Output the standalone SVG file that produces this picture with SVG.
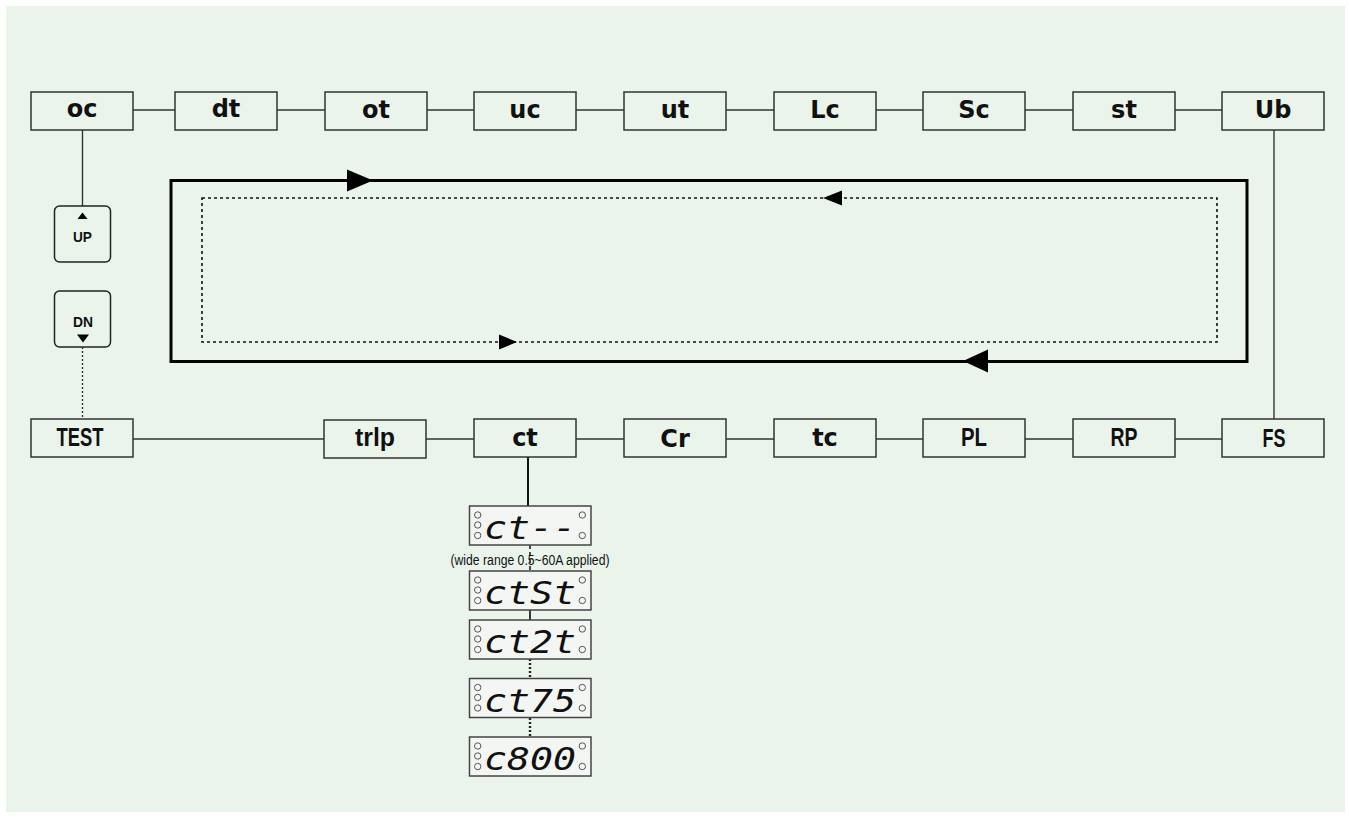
<svg xmlns="http://www.w3.org/2000/svg" width="1349" height="818" viewBox="0 0 1349 818">
<style>
.box{fill:none;stroke:#333;stroke-width:1.5}
.ln{stroke:#333;stroke-width:1.4;fill:none}
.lbl{font-family:"DejaVu Sans",sans-serif;font-weight:bold;font-size:24px;fill:#111;text-anchor:middle}
.lblc{font-family:"Liberation Sans",sans-serif;font-weight:bold;font-size:25px;fill:#111;text-anchor:middle}
.btn{fill:none;stroke:#222;stroke-width:1.5}
.btxt{font-family:"Liberation Sans",sans-serif;font-weight:bold;font-size:15px;fill:#111;text-anchor:middle}
.disp{fill:#F4F6F4;stroke:#444;stroke-width:1.5}
.led{fill:none;stroke:#555;stroke-width:1}
.seg{font-family:"DejaVu Sans Mono",monospace;font-style:italic;font-size:32px;fill:#111}
.note{font-family:"Liberation Sans",sans-serif;font-size:15.5px;fill:#111;text-anchor:middle}
.arrow{fill:#000}
</style>
<rect x="6" y="6" width="1339" height="806" fill="#EAF4EB"/>

<g id="connectors">
  <line class="ln" x1="133" y1="110" x2="175" y2="110"/>
  <line class="ln" x1="277" y1="110" x2="325" y2="110"/>
  <line class="ln" x1="427" y1="110" x2="474" y2="110"/>
  <line class="ln" x1="576" y1="110" x2="624" y2="110"/>
  <line class="ln" x1="726" y1="110" x2="774" y2="110"/>
  <line class="ln" x1="876" y1="110" x2="923" y2="110"/>
  <line class="ln" x1="1025" y1="110" x2="1073" y2="110"/>
  <line class="ln" x1="1175" y1="110" x2="1222" y2="110"/>
  <line class="ln" x1="133" y1="439" x2="324" y2="439"/>
  <line class="ln" x1="426" y1="439" x2="474" y2="439"/>
  <line class="ln" x1="576" y1="439" x2="624" y2="439"/>
  <line class="ln" x1="726" y1="439" x2="774" y2="439"/>
  <line class="ln" x1="876" y1="439" x2="923" y2="439"/>
  <line class="ln" x1="1025" y1="439" x2="1073" y2="439"/>
  <line class="ln" x1="1175" y1="439" x2="1222" y2="439"/>
  <line class="ln" x1="1274" y1="130" x2="1274" y2="419"/>
  <line class="ln" x1="82.5" y1="130" x2="82.5" y2="206"/>
  <line class="ln" x1="82.5" y1="347" x2="82.5" y2="419" stroke-dasharray="2 2" stroke-width="1.6"/>
  <path d="M171,180.5 H1247 V361.5 H171 Z" fill="none" stroke="#000" stroke-width="3"/>
  <path d="M202,198 H1217 V342 H202 Z" fill="none" stroke="#111" stroke-width="1.6" stroke-dasharray="3 3"/>
  <polygon class="arrow" points="373,180.5 347,169.5 347,191.5"/>
  <polygon class="arrow" points="963,361 988,349.5 988,372.5"/>
  <polygon class="arrow" points="823,198 842,190.5 842,205.5"/>
  <polygon class="arrow" points="517,342 499,334.5 499,349.5"/>
  <line x1="528" y1="457" x2="528" y2="506" stroke="#111" stroke-width="2"/>
  <line x1="530" y1="545" x2="530" y2="571" stroke="#222" stroke-width="1.6" stroke-dasharray="4 3"/>
  <line x1="530" y1="610" x2="530" y2="620" stroke="#222" stroke-width="1.8"/>
  <line x1="530" y1="659" x2="530" y2="678" stroke="#222" stroke-width="2.4" stroke-dasharray="2 2"/>
  <line x1="530" y1="718" x2="530" y2="737" stroke="#222" stroke-width="2.4" stroke-dasharray="2 2"/>
</g>

<g id="node-oc"><rect class="box" x="31" y="92" width="102" height="38"/><text class="lbl" x="82" y="117">oc</text></g>
<g id="node-dt"><rect class="box" x="175" y="92" width="102" height="38"/><text class="lbl" x="226" y="117">dt</text></g>
<g id="node-ot"><rect class="box" x="325" y="92" width="102" height="38"/><text class="lbl" x="376" y="118">ot</text></g>
<g id="node-uc"><rect class="box" x="474" y="92" width="102" height="38"/><text class="lbl" x="525" y="118">uc</text></g>
<g id="node-ut"><rect class="box" x="624" y="92" width="102" height="38"/><text class="lbl" x="675" y="118">ut</text></g>
<g id="node-Lc"><rect class="box" x="774" y="92" width="102" height="38"/><text class="lbl" x="825" y="118">Lc</text></g>
<g id="node-Sc"><rect class="box" x="923" y="92" width="102" height="38"/><text class="lbl" x="974" y="118">Sc</text></g>
<g id="node-st"><rect class="box" x="1073" y="92" width="102" height="38"/><text class="lbl" x="1124" y="118">st</text></g>
<g id="node-Ub"><rect class="box" x="1222" y="92" width="102" height="38"/><text class="lbl" x="1273" y="118">Ub</text></g>

<g id="node-UP"><rect class="btn" x="54.5" y="206" width="56" height="56" rx="5"/><polygon points="82.5,212.5 77.5,219 87.5,219" fill="#000"/><text class="btxt" x="82.5" y="242" textLength="19" lengthAdjust="spacingAndGlyphs">UP</text></g>
<g id="node-DN"><rect class="btn" x="54.5" y="291" width="56" height="56" rx="5"/><text class="btxt" x="83" y="326.5" textLength="20" lengthAdjust="spacingAndGlyphs">DN</text><polygon points="83,342.5 77,334.5 89,334.5" fill="#000"/></g>

<g id="node-TEST"><rect class="box" x="31" y="419" width="102" height="38"/><text class="lblc" x="80" y="446" textLength="47" lengthAdjust="spacingAndGlyphs">TEST</text></g>
<g id="node-trlp"><rect class="box" x="324" y="420" width="102" height="38"/><text class="lblc" x="375" y="446" textLength="40" lengthAdjust="spacingAndGlyphs">trlp</text></g>
<g id="node-ct"><rect class="box" x="474" y="419" width="102" height="38"/><text class="lbl" x="525" y="446">ct</text></g>
<g id="node-Cr"><rect class="box" x="624" y="419" width="102" height="38"/><text class="lbl" x="675" y="447">Cr</text></g>
<g id="node-tc"><rect class="box" x="774" y="419" width="102" height="38"/><text class="lbl" x="825" y="446">tc</text></g>
<g id="node-PL"><rect class="box" x="923" y="419" width="102" height="38"/><text class="lblc" x="974" y="446" textLength="26" lengthAdjust="spacingAndGlyphs">PL</text></g>
<g id="node-RP"><rect class="box" x="1073" y="419" width="102" height="38"/><text class="lblc" x="1124" y="446" textLength="27" lengthAdjust="spacingAndGlyphs">RP</text></g>
<g id="node-FS"><rect class="box" x="1222" y="419" width="102" height="38"/><text class="lblc" x="1274" y="447" textLength="23" lengthAdjust="spacingAndGlyphs">FS</text></g>

<g id="node-disp1">
  <rect class="disp" x="469.5" y="506" width="121.5" height="39"/>
  <circle class="led" cx="477.7" cy="515" r="3.2"/><circle class="led" cx="477.7" cy="525" r="3.2"/><circle class="led" cx="477.7" cy="535.5" r="3.2"/>
  <circle class="led" cx="582.3" cy="515" r="3.2"/><circle class="led" cx="582.3" cy="535.5" r="3.2"/>
  <text class="seg" x="484" y="539" textLength="92" lengthAdjust="spacingAndGlyphs">ct--</text>
</g>
<text class="note" x="530" y="564.5" textLength="159" lengthAdjust="spacingAndGlyphs">(wide range 0.5~60A applied)</text>
<g id="node-disp2">
  <rect class="disp" x="469.5" y="571" width="121.5" height="39"/>
  <circle class="led" cx="477.7" cy="580" r="3.2"/><circle class="led" cx="477.7" cy="590" r="3.2"/><circle class="led" cx="477.7" cy="600.5" r="3.2"/>
  <circle class="led" cx="582.3" cy="580" r="3.2"/><circle class="led" cx="582.3" cy="600.5" r="3.2"/>
  <text class="seg" x="484" y="604" textLength="92" lengthAdjust="spacingAndGlyphs">ctSt</text>
</g>
<g id="node-disp3">
  <rect class="disp" x="469.5" y="620" width="121.5" height="39"/>
  <circle class="led" cx="477.7" cy="629" r="3.2"/><circle class="led" cx="477.7" cy="639" r="3.2"/><circle class="led" cx="477.7" cy="649.5" r="3.2"/>
  <circle class="led" cx="582.3" cy="629" r="3.2"/><circle class="led" cx="582.3" cy="649.5" r="3.2"/>
  <text class="seg" x="484" y="653" textLength="92" lengthAdjust="spacingAndGlyphs">ct2t</text>
</g>
<g id="node-disp4">
  <rect class="disp" x="469.5" y="678.5" width="121.5" height="39"/>
  <circle class="led" cx="477.7" cy="687.5" r="3.2"/><circle class="led" cx="477.7" cy="697.5" r="3.2"/><circle class="led" cx="477.7" cy="708" r="3.2"/>
  <circle class="led" cx="582.3" cy="687.5" r="3.2"/><circle class="led" cx="582.3" cy="708" r="3.2"/>
  <text class="seg" x="484" y="711.5" textLength="92" lengthAdjust="spacingAndGlyphs">ct75</text>
</g>
<g id="node-disp5">
  <rect class="disp" x="469.5" y="737" width="121.5" height="39"/>
  <circle class="led" cx="477.7" cy="746" r="3.2"/><circle class="led" cx="477.7" cy="756" r="3.2"/><circle class="led" cx="477.7" cy="766.5" r="3.2"/>
  <circle class="led" cx="582.3" cy="746" r="3.2"/><circle class="led" cx="582.3" cy="766.5" r="3.2"/>
  <text class="seg" x="484" y="770" textLength="92" lengthAdjust="spacingAndGlyphs">c800</text>
</g>
</svg>
